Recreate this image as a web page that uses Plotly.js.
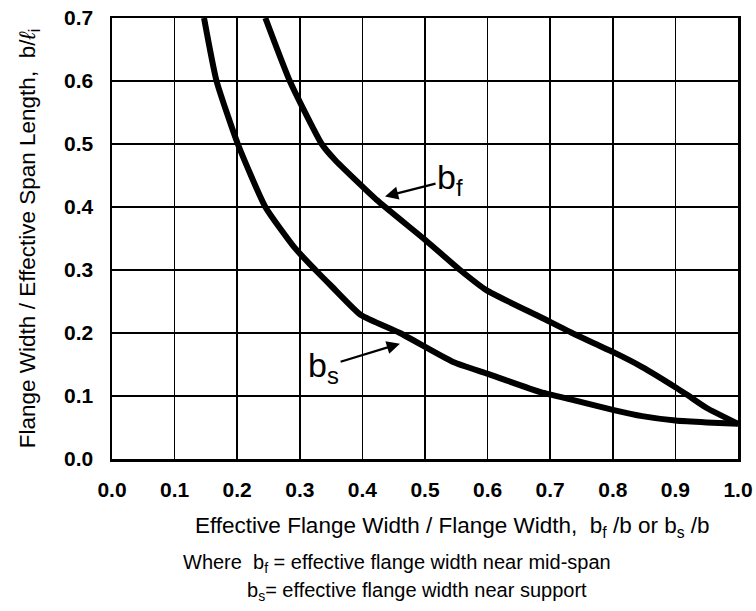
<!DOCTYPE html>
<html>
<head>
<meta charset="utf-8">
<script src="https://cdn.plot.ly/plotly-3.0.1.min.js"></script>
<style>html,body{margin:0;padding:0;background:#fff;}#chart{width:756px;height:611px;}</style>
</head>
<body>
<div id="chart"></div>
<script>
// b_s curve (effective flange width near support)
const bsX = [0.147, 0.167, 0.201, 0.245, 0.292, 0.325, 0.350, 0.397, 0.460, 0.545, 0.598, 0.685, 0.739, 0.800, 0.847, 0.900, 0.950, 1.000];
const bsY = [0.700, 0.600, 0.500, 0.400, 0.335, 0.300, 0.275, 0.229, 0.200, 0.154, 0.136, 0.106, 0.093, 0.078, 0.068, 0.061, 0.058, 0.056];
// b_f curve (effective flange width near mid-span)
const bfX = [0.245, 0.284, 0.335, 0.356, 0.423, 0.500, 0.556, 0.598, 0.685, 0.739, 0.800, 0.847, 0.900, 0.920, 0.950, 1.000];
const bfY = [0.700, 0.600, 0.500, 0.475, 0.411, 0.348, 0.300, 0.268, 0.225, 0.198, 0.170, 0.146, 0.114, 0.101, 0.081, 0.056];
const xTicks = [0.0, 0.1, 0.2, 0.3, 0.4, 0.5, 0.6, 0.7, 0.8, 0.9, 1.0];
const yTicks = [0.0, 0.1, 0.2, 0.3, 0.4, 0.5, 0.6, 0.7];

const font = 'Liberation Sans, Arial, Helvetica, sans-serif';

const traces = [
  {x: bsX, y: bsY, type: 'scatter', mode: 'lines', name: 'b_s',
   line: {color: '#000', width: 6, shape: 'spline', smoothing: 0.5}, hoverinfo: 'x+y'},
  {x: bfX, y: bfY, type: 'scatter', mode: 'lines', name: 'b_f',
   line: {color: '#000', width: 6, shape: 'spline', smoothing: 0.5}, hoverinfo: 'x+y'}
];

const layout = {
  width: 756, height: 611,
  margin: {l: 112, r: 18, t: 18, b: 152},
  paper_bgcolor: '#fff', plot_bgcolor: '#fff',
  showlegend: false,
  font: {family: font, color: '#000'},
  xaxis: {
    range: [0, 1.0], tickvals: xTicks, ticktext: xTicks.map(v => v.toFixed(1)),
    showgrid: true, gridcolor: '#000', gridwidth: 1.5,
    showline: true, linecolor: '#000', linewidth: 2.5, mirror: true,
    zeroline: false, ticks: '', ticklabelstandoff: 10,
    tickfont: {family: font, size: 21, color: '#000', weight: 'bold'}
  },
  yaxis: {
    range: [0, 0.7], tickvals: yTicks, ticktext: yTicks.map(v => v.toFixed(1)),
    showgrid: true, gridcolor: '#000', gridwidth: 2.2,
    showline: true, linecolor: '#000', linewidth: 2.5, mirror: true,
    zeroline: false, ticks: '', ticklabelstandoff: 12,
    tickfont: {family: font, size: 21, color: '#000', weight: 'bold'},
    title: {text: 'Flange Width / Effective Span Length,  b/<i>ℓ</i><sub>i</sub>',
            font: {family: font, size: 22.5, color: '#000'}, standoff: 22}
  },
  annotations: [
    {x: 0.433, y: 0.416, xref: 'x', yref: 'y', ax: 0.540, ay: 0.443, axref: 'x', ayref: 'y',
     text: 'b<sub>f</sub>', showarrow: true, arrowhead: 2, arrowsize: 1.2, arrowwidth: 2.2, arrowcolor: '#000',
     font: {family: font, size: 34, color: '#000'}, standoff: 2},
    {x: 0.463, y: 0.184, xref: 'x', yref: 'y', ax: 0.338, ay: 0.146, axref: 'x', ayref: 'y',
     text: 'b<sub>s</sub>', showarrow: true, arrowhead: 2, arrowsize: 1.2, arrowwidth: 2.2, arrowcolor: '#000',
     font: {family: font, size: 34, color: '#000'}, standoff: 2},
    {x: 193, y: 527, xref: 'paper', yref: 'paper',
     text: 'Effective Flange Width / Flange Width,  b<sub>f</sub> /b or b<sub>s</sub> /b',
     showarrow: false, xanchor: 'left', yanchor: 'middle', font: {family: font, size: 22.5, color: '#000'}},
    {x: 181, y: 563, xref: 'paper', yref: 'paper', text: 'Where  b<sub>f</sub> = effective flange width near mid-span',
     showarrow: false, xanchor: 'left', yanchor: 'middle', font: {family: font, size: 20, color: '#000'}},
    {x: 245, y: 591, xref: 'paper', yref: 'paper', text: 'b<sub>s</sub>= effective flange width near support',
     showarrow: false, xanchor: 'left', yanchor: 'middle', font: {family: font, size: 20, color: '#000'}}
  ]
};

// convert pixel positions of the text lines below the plot into paper coordinates
const plotW = 756 - 112 - 18, plotH = 611 - 18 - 152;
layout.annotations.forEach(a => {
  if (a.xref === 'paper') {
    a.x = (a.x - 112) / plotW;
    a.y = (611 - 152 - a.y) / plotH;
  }
});

Plotly.newPlot('chart', traces, layout, {displayModeBar: false, staticPlot: true});
</script>
</body>
</html>
